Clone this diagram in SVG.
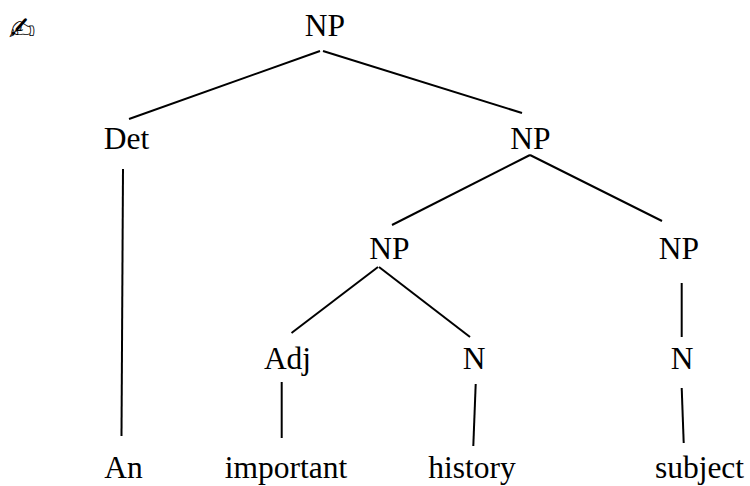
<svg xmlns="http://www.w3.org/2000/svg" width="750" height="486" viewBox="0 0 750 486">
<style>
text{font-family:"Liberation Serif","Times New Roman",serif;font-size:31.5px;fill:#000;text-anchor:middle}
line{stroke:#000;stroke-width:2;fill:none}
#pen text{font-family:"DejaVu Sans",sans-serif;font-size:32px}
</style>
<rect width="750" height="486" fill="#fff"/>
<g id="connectors">
<line x1="320" y1="51" x2="129" y2="119"/>
<line x1="323" y1="51" x2="522" y2="113"/>
<line x1="123" y1="169" x2="121.5" y2="436"/>
<line x1="530" y1="155" x2="392" y2="225"/>
<line x1="530" y1="155" x2="662" y2="221"/>
<line x1="378" y1="267" x2="291.5" y2="333"/>
<line x1="379" y1="267" x2="470" y2="337"/>
<line x1="681.7" y1="283" x2="681.7" y2="337"/>
<line x1="281.7" y1="382" x2="281.7" y2="438"/>
<line x1="475.7" y1="384" x2="473.3" y2="446"/>
<line x1="681.7" y1="388" x2="683.7" y2="443"/>
</g>
<g id="pen"><text x="22" y="40">✍</text></g>
<g id="root"><text x="325" y="36">NP</text></g>
<g id="det"><text x="126.5" y="149">Det</text></g>
<g id="np1"><text x="530.5" y="149">NP</text></g>
<g id="np2"><text x="389.5" y="259">NP</text></g>
<g id="np3"><text x="679" y="259">NP</text></g>
<g id="adj"><text x="287.5" y="369">Adj</text></g>
<g id="n1"><text x="474" y="369">N</text></g>
<g id="n2"><text x="682" y="369">N</text></g>
<g id="an"><text x="123.5" y="478">An</text></g>
<g id="important"><text x="286" y="478">important</text></g>
<g id="history"><text x="472" y="478">history</text></g>
<g id="subject"><text x="699.5" y="478">subject</text></g>
</svg>
